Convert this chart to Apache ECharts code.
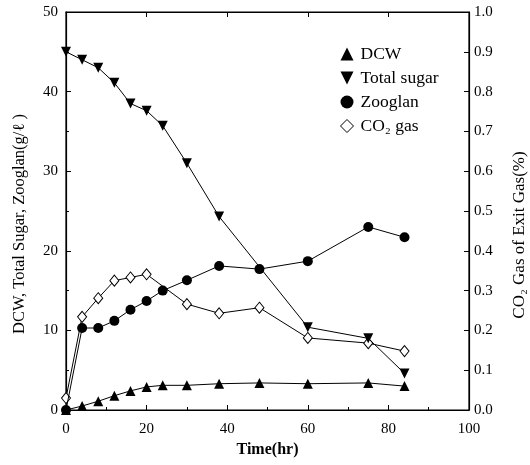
<!DOCTYPE html>
<html><head><meta charset="utf-8">
<script src="https://cdn.jsdelivr.net/npm/echarts@6/dist/echarts.min.js"></script>
<style>html,body{margin:0;padding:0;background:#fff}#c{width:530px;height:465px}</style>
</head><body><div id="c"></div>
<script>
var timeDCW = [0, 4, 8, 12, 16, 20, 24, 30, 38, 48, 60, 75, 84];
var dcw = [0, 0.5, 1.1, 1.8, 2.4, 2.9, 3.1, 3.1, 3.3, 3.4, 3.3, 3.4, 3.0];
var timeSugar = [0, 4, 8, 12, 16, 20, 24, 30, 38, 60, 75, 84];
var sugar = [45.0, 44.0, 43.0, 41.1, 38.5, 37.6, 35.7, 31.0, 24.3, 10.4, 9.0, 4.6];
var timeZoo = [0, 4, 8, 12, 16, 20, 24, 30, 38, 48, 60, 75, 84];
var zooglan = [0, 10.3, 10.3, 11.2, 12.6, 13.7, 15.0, 16.3, 18.1, 17.7, 18.7, 23.0, 21.7];
var timeCO2 = [0, 4, 8, 12, 16, 20, 30, 38, 48, 60, 75, 84];
var co2 = [0.03, 0.234, 0.281, 0.325, 0.333, 0.341, 0.266, 0.243, 0.257, 0.181, 0.168, 0.148];
var seriesNames = ['DCW', 'Total sugar', 'Zooglan', 'CO\u2082 gas'];

function zip(xs, ys){ return xs.map(function(x,i){ return [x, ys[i]]; }); }
var font = 'Liberation Serif';
function axisBase(){
  return {
    axisLine:{show:true, onZero:false, lineStyle:{color:'#000', width:1.2}},
    axisTick:{show:true, inside:true, length:5, lineStyle:{color:'#000'}},
    splitLine:{show:false}
  };
}
var chart = echarts.init(document.getElementById('c'), null, {renderer:'canvas'});
var lineStyle = {color:'#000', width:1};
chart.setOption({
  animation:false,
  backgroundColor:'#fff',
  textStyle:{fontFamily:font, color:'#000'},
  grid:{left:66, right:61, top:12, bottom:55, containLabel:false, outerBoundsMode:'none',
    show:true, borderColor:'#000', borderWidth:1.2, backgroundColor:'transparent'},
  legend:{
    orient:'vertical', left:335, top:40, itemGap:6, itemWidth:13, itemHeight:13,
    textStyle:{fontFamily:font, fontSize:17.5, color:'#000', padding:[0,0,0,2]},
    data:[
      {name:seriesNames[0], icon:'triangle', itemStyle:{color:'#000'}},
      {name:seriesNames[1], icon:'path://M0,0 L10,0 L5,10 Z', itemStyle:{color:'#000'}},
      {name:seriesNames[2], icon:'circle', itemStyle:{color:'#000'}},
      {name:seriesNames[3], icon:'diamond', itemStyle:{color:'#fff', borderColor:'#000', borderWidth:1}}
    ]
  },
  xAxis:[
    Object.assign(axisBase(), {type:'value', position:'bottom', min:0, max:100, interval:20,
      name:'Time(hr)', nameLocation:'middle', nameGap:32,
      nameTextStyle:{fontFamily:font, fontSize:16, fontWeight:'bold', color:'#000'},
      axisLabel:{color:'#000', fontFamily:font, fontSize:15, margin:12},
      minorTick:{show:true, splitNumber:2, length:3, lineStyle:{color:'#000'}}}),
    Object.assign(axisBase(), {type:'value', position:'top', min:0, max:100, interval:20,
      axisLabel:{show:false}})
  ],
  yAxis:[
    Object.assign(axisBase(), {type:'value', position:'left', min:0, max:50, interval:10,
      name:'DCW, Total Sugar, Zooglan(g/\u2113 )', nameLocation:'middle', nameGap:38, nameRotate:90,
      nameTextStyle:{fontFamily:font, fontSize:16.5, color:'#000', padding:[0,26,0,0]},
      axisLabel:{color:'#000', fontFamily:font, fontSize:15, margin:8},
      minorTick:{show:true, splitNumber:2, length:3, lineStyle:{color:'#000'}}}),
    Object.assign(axisBase(), {type:'value', position:'right', min:0, max:1, interval:0.1,
      name:'CO\u2082 Gas of Exit Gas(%)', nameLocation:'middle', nameGap:42, nameRotate:90,
      nameTextStyle:{fontFamily:font, fontSize:17, color:'#000', padding:[0,48,0,0]},
      axisLabel:{color:'#000', fontFamily:font, fontSize:15, margin:5,
        formatter:function(v){ return v.toFixed(1); }}})
  ],
  series:[
    {name:seriesNames[0], type:'line', xAxisIndex:0, yAxisIndex:0, data:zip(timeDCW, dcw),
      symbol:'triangle', symbolSize:10, itemStyle:{color:'#000'}, lineStyle:lineStyle, z:3},
    {name:seriesNames[1], type:'line', xAxisIndex:0, yAxisIndex:0, data:zip(timeSugar, sugar),
      symbol:'triangle', symbolRotate:180, symbolSize:10, itemStyle:{color:'#000'}, lineStyle:lineStyle, z:3},
    {name:seriesNames[2], type:'line', xAxisIndex:0, yAxisIndex:0, data:zip(timeZoo, zooglan),
      symbol:'circle', symbolSize:10, itemStyle:{color:'#000'}, lineStyle:lineStyle, z:4},
    {name:seriesNames[3], type:'line', xAxisIndex:1, yAxisIndex:1, data:zip(timeCO2, co2),
      symbol:'diamond', symbolSize:[9,11], itemStyle:{color:'#fff', borderColor:'#000', borderWidth:1},
      lineStyle:lineStyle, z:2}
  ]
});
</script></body></html>
